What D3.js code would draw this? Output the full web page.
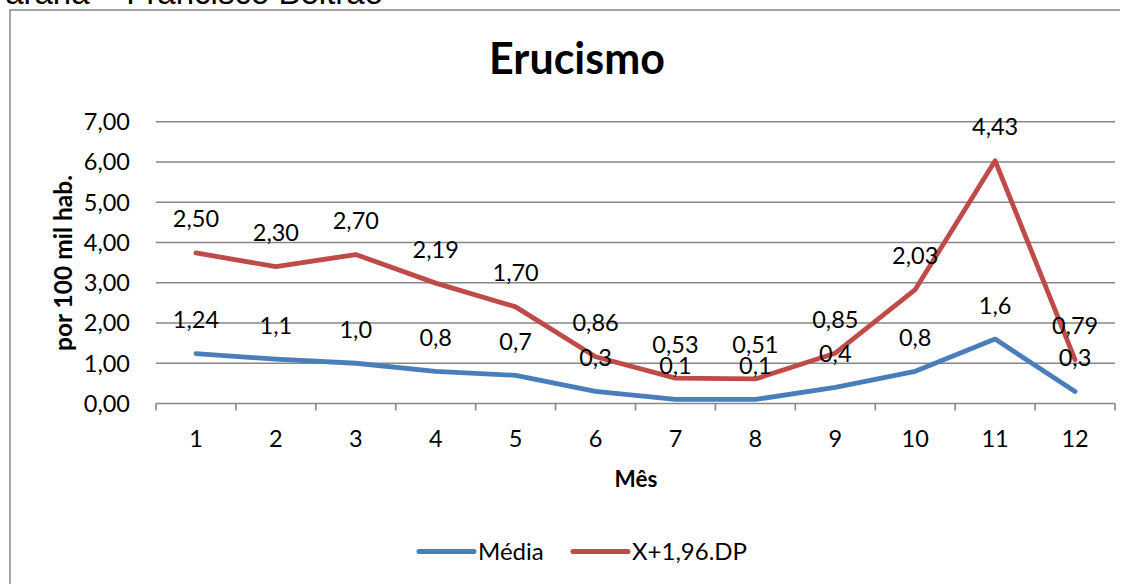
<!DOCTYPE html>
<html>
<head>
<meta charset="utf-8">
<script src="https://cdn.jsdelivr.net/npm/d3@7"></script>
<style>
  html, body { margin: 0; padding: 0; background: #fff; }
  svg { display: block; }
  text { font-family: Lato, "Open Sans", sans-serif; fill: #000; }
</style>
</head>
<body>
<svg id="chart" width="1129" height="584"></svg>
<script>
// Months
const months = ["1", "2", "3", "4", "5", "6", "7", "8", "9", "10", "11", "12"];
// Mean incidence (per 100k inhabitants) and its printed labels
const media = [1.24, 1.1, 1.0, 0.8, 0.7, 0.3, 0.1, 0.1, 0.4, 0.8, 1.6, 0.3];
const mediaLabels = ["1,24", "1,1", "1,0", "0,8", "0,7", "0,3", "0,1", "0,1", "0,4", "0,8", "1,6", "0,3"];
// 1.96 x standard deviation, stacked on top of the mean
const dp = [2.50, 2.30, 2.70, 2.19, 1.70, 0.86, 0.53, 0.51, 0.85, 2.03, 4.43, 0.79];
const dpLabels = ["2,50", "2,30", "2,70", "2,19", "1,70", "0,86", "0,53", "0,51", "0,85", "2,03", "4,43", "0,79"];
// Y axis ticks
const yTicks = [0, 1, 2, 3, 4, 5, 6, 7];
const seriesNames = ["Média", "X+1,96.DP"];
const seriesColors = ["#4A7EBB", "#BE4B48"];

const svg = d3.select("#chart");
const fmt = v => d3.format(".2f")(v).replace(".", ",");

// Heading text above the chart frame
svg.append("text")
  .attr("x", 383).attr("y", 4)
  .attr("text-anchor", "end")
  .style("font-family", "'Liberation Sans', Arial, sans-serif")
  .style("font-size", "33px")
  .text("Paraná – Francisco Beltrão");

// Chart frame
svg.append("path")
  .attr("d", "M10,590 L10,10 L1120,10")
  .attr("fill", "none")
  .attr("stroke", "#888")
  .attr("stroke-width", 1.5);

const plot = { left: 156, right: 1115, top: 121.7, bottom: 403.5 };

const x = d3.scaleBand().domain(months).range([plot.left, plot.right]);
const y = d3.scaleLinear().domain([0, 7]).range([plot.bottom, plot.top]);

// Gridlines
svg.append("g").selectAll("line")
  .data(yTicks.filter(t => t > 0))
  .join("line")
  .attr("x1", plot.left).attr("x2", plot.right)
  .attr("y1", d => y(d)).attr("y2", d => y(d))
  .attr("stroke", "#878787").attr("stroke-width", 1.6);

// Y axis tick labels
svg.append("g").selectAll("text")
  .data(yTicks)
  .join("text")
  .attr("x", 130)
  .attr("y", d => y(d) + 8.5)
  .attr("text-anchor", "end")
  .style("font-size", "23.5px")
  .text(d => fmt(d));

// X axis line and tick marks at category boundaries
const xAxis = svg.append("g");
xAxis.append("line")
  .attr("x1", plot.left).attr("x2", plot.right)
  .attr("y1", plot.bottom).attr("y2", plot.bottom)
  .attr("stroke", "#878787").attr("stroke-width", 1.6);
const bounds = months.map(m => x(m)).concat([plot.right]);
xAxis.selectAll("line.tick")
  .data(bounds)
  .join("line")
  .attr("class", "tick")
  .attr("x1", d => d).attr("x2", d => d)
  .attr("y1", plot.bottom).attr("y2", plot.bottom + 7)
  .attr("stroke", "#878787").attr("stroke-width", 1.6);
xAxis.selectAll("text")
  .data(months)
  .join("text")
  .attr("x", d => x(d) + x.bandwidth() / 2)
  .attr("y", 447)
  .attr("text-anchor", "middle")
  .style("font-size", "23.5px")
  .text(d => d);

// Axis titles
svg.append("text")
  .attr("x", 636).attr("y", 487)
  .attr("text-anchor", "middle")
  .style("font-size", "22.5px").style("font-weight", "bold")
  .text("Mês");
svg.append("text")
  .attr("transform", "translate(72,263) rotate(-90)")
  .attr("text-anchor", "middle")
  .style("font-size", "24.5px").style("font-weight", "bold")
  .text("por 100 mil hab.");

// Chart title
svg.append("text")
  .attr("x", 577).attr("y", 74)
  .attr("text-anchor", "middle")
  .style("font-size", "43px").style("font-weight", "bold")
  .text("Erucismo");

// Stacked series
const rows = months.map((m, i) => ({ month: m, media: media[i], dp: dp[i] }));
const stacked = d3.stack().keys(["media", "dp"])(rows);
const cx = d => x(d.data.month) + x.bandwidth() / 2;

const line = d3.line().x(cx).y(d => y(d[1]));
const labelSets = [mediaLabels, dpLabels];

stacked.forEach((layer, k) => {
  svg.append("path")
    .datum(layer)
    .attr("fill", "none")
    .attr("stroke", seriesColors[k])
    .attr("stroke-width", 4.8)
    .attr("stroke-linejoin", "round")
    .attr("stroke-linecap", "round")
    .attr("d", line);
});

stacked.forEach((layer, k) => {
  svg.append("g").selectAll("text")
    .data(layer)
    .join("text")
    .attr("x", cx)
    .attr("y", d => y(d[1]) - 25.5)
    .attr("text-anchor", "middle")
    .style("font-size", "23.5px")
    .text((d, i) => labelSets[k][i]);
});

// Legend
const legendItems = [
  { x1: 419, x2: 474, tx: 478 },
  { x1: 573, x2: 628, tx: 632 }
];
const legend = svg.append("g");
seriesNames.forEach((name, k) => {
  const it = legendItems[k];
  legend.append("line")
    .attr("x1", it.x1).attr("x2", it.x2)
    .attr("y1", 551.5).attr("y2", 551.5)
    .attr("stroke", seriesColors[k])
    .attr("stroke-width", 5)
    .attr("stroke-linecap", "round");
  legend.append("text")
    .attr("x", it.tx).attr("y", 559.5)
    .style("font-size", "24px")
    .text(name);
});
</script>
</body>
</html>
